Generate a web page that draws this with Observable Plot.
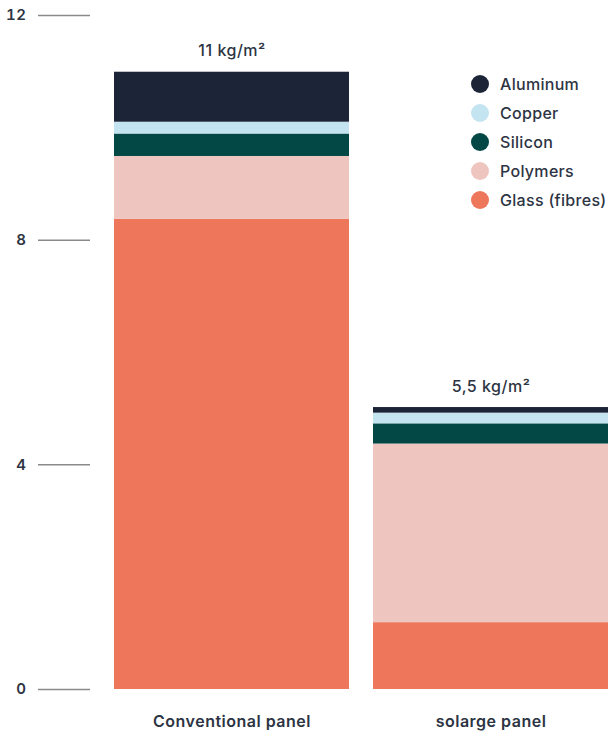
<!DOCTYPE html>
<html>
<head>
<meta charset="utf-8">
<script src="https://cdn.jsdelivr.net/npm/d3@7"></script>
<script src="https://cdn.jsdelivr.net/npm/@observablehq/plot@0.6"></script>
<style>
  body { margin: 0; background: #fff; font-family: Inter, "Noto Sans", sans-serif; }
  #wrap { position: relative; width: 611px; height: 732px; }
  #wrap svg text { letter-spacing: 0.5px; }
  #legend { position: absolute; left: 471px; top: 70px; color: #2d3443; font-size: 16px; font-weight: 500; letter-spacing: 0.3px; }
  #legend .row { display: flex; align-items: center; height: 28.8px; }
  #legend .dot { width: 18px; height: 18px; border-radius: 50%; margin-right: 11px; flex: none; }
</style>
</head>
<body>
<div id="wrap"><div id="legend"></div></div>
<script>
const panels = ["Conventional panel", "solarge panel"];
const materials = ["Glass (fibres)", "Polymers", "Silicon", "Copper", "Aluminum"];
const conventional = [8.37, 1.12, 0.40, 0.21, 0.89];
const solarge = [1.19, 3.18, 0.36, 0.19, 0.10];
const totalLabels = ["11 kg/m²", "5,5 kg/m²"];
const colors = ["#ee765a", "#efc5c0", "#034845", "#c5e4f2", "#1c2538"];
const yTicks = [0, 4, 8, 12];

const series = [conventional, solarge];
const data = [];
panels.forEach((p, i) => materials.forEach((m, j) => data.push({panel: p, material: m, value: series[i][j]})));
const totals = panels.map((p, i) => ({panel: p, total: d3.sum(series[i]), label: totalLabels[i]}));

const chart = Plot.plot({
  width: 611,
  height: 732,
  marginLeft: 113,
  marginRight: 2,
  marginTop: 15,
  marginBottom: 43,
  x: {domain: panels, paddingInner: 0.0923, paddingOuter: 0, label: null},
  y: {domain: [0, 12], label: null},
  color: {domain: materials, range: colors},
  style: {fontFamily: "Inter, 'Noto Sans', sans-serif", fontSize: "14px", color: "#2d3443", background: "#fff"},
  marks: [
    Plot.barY(data, {x: "panel", y: "value", fill: "material", order: materials}),
    Plot.text(totals, {x: "panel", y: "total", text: "label", dy: -21, fontSize: 16, fontWeight: 500, fill: "#2d3443"}),
    Plot.axisY({ticks: yTicks, tickSize: 52, dx: -23, tickPadding: 12, stroke: "#8a8a8a", strokeWidth: 1.5, fill: "#2d3443", fontSize: 15, fontWeight: 600, label: null}),
    Plot.axisX({tickSize: 0, tickPadding: 26, fontSize: 16, fontWeight: 600, fill: "#2d3443", label: null})
  ]
});
document.getElementById("wrap").prepend(chart);

const legend = document.getElementById("legend");
materials.slice().reverse().forEach((m) => {
  const row = document.createElement("div");
  row.className = "row";
  const dot = document.createElement("span");
  dot.className = "dot";
  dot.style.background = colors[materials.indexOf(m)];
  const lab = document.createElement("span");
  lab.textContent = m;
  row.append(dot, lab);
  legend.append(row);
});
</script>
</body>
</html>
